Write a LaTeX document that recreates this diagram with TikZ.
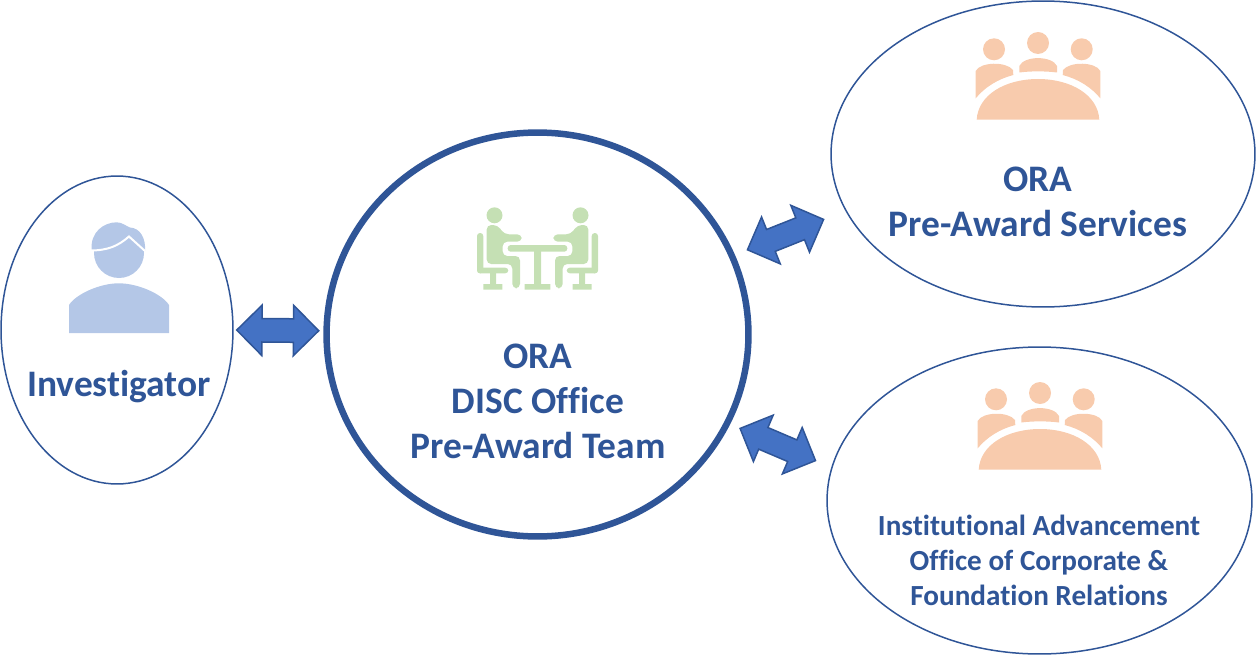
\documentclass[tikz,border=0pt]{standalone}
\usepackage{fontspec}
\setmainfont{Carlito}[Ligatures=NoCommon]
\usetikzlibrary{shapes.geometric,shapes.arrows,positioning,calc}
\definecolor{oraBlue}{HTML}{2F5597}
\definecolor{arrowBlue}{HTML}{4472C4}
\definecolor{personBlue}{HTML}{B4C7E7}
\definecolor{teamGreen}{HTML}{C5E0B4}
\definecolor{groupPeach}{HTML}{F8CBAD}
\tikzset{
  office/.style={ellipse,draw=oraBlue,line width=0.03cm,inner sep=0pt,outer sep=0pt},
  bigText/.style={align=center,text=oraBlue,font=\fontsize{21.3}{25.6}\selectfont\bfseries},
  smallText/.style={align=center,text=oraBlue,font=\fontsize{16.6}{19.9}\selectfont\bfseries},
  exchange/.style={double arrow,draw=oraBlue,fill=arrowBlue,line width=0.03cm,sloped,
    minimum height=1.64cm,double arrow head extend=0.27cm,
    double arrow tip angle=90,inner sep=0.22cm,outer sep=0pt},
  meeting/.pic={
    \fill[groupPeach] (34,29.3) circle (11) (78,23) circle (11) (121.7,29.3) circle (11);
    % shoulders
    \fill[groupPeach] (59.3,52.5) -- (59.3,46) .. controls (64,35.5) and (92,35.5) .. (97,46) -- (97,52.5) .. controls (85,51) and (71,51) .. (59.3,52.5) -- cycle;
    \fill[groupPeach] (15.7,78.3) -- (15.7,51) .. controls (20,42) and (46,41) .. (53,50) -- (53.3,55) .. controls (38,59) and (25,67) .. (15.7,78.3) -- cycle;
    \fill[groupPeach] (140.3,78.3) -- (140.3,51) .. controls (136,42) and (110,41) .. (103,50) -- (102.7,55) .. controls (118,59) and (131,67) .. (140.3,78.3) -- cycle;
    % table
    \fill[groupPeach] (16.7,99.7) .. controls (18,75) and (45,59) .. (78,59) .. controls (111,59) and (138,75) .. (139.3,99.7) -- cycle;
  }
}
\begin{document}
\begin{tikzpicture}[x=0.02cm,y=-0.02cm]
  \useasboundingbox (0,0) rectangle (1256,655);

  % Offices
  \node[office,minimum width=4.64cm,minimum height=6.16cm] (investigator) at (117,330) {};
  \node[office,line width=0.13cm,minimum width=8.44cm,minimum height=8.08cm] (disc) at (537.5,334.5) {};
  \node[office,minimum width=8.48cm,minimum height=6.12cm] (services) at (1043,154) {};
  \node[office,minimum width=8.5cm,minimum height=6.14cm] (advancement) at (1039.5,500.5) {};

  % Labels
  \node[bigText] (investigatorText) at (119,386.5) {Investigator};
  \node[bigText] (discText) at (538,401) {ORA\\DISC Office\\Pre-Award Team};
  \node[bigText] (servicesText) at (1038,202) {ORA\\Pre-Award Services};
  \node[smallText] (advancementText) at (1039,560) {Institutional Advancement\\Office of Corporate \&\\Foundation Relations};

  % Block arrows
  \path (investigator.-0.7) -- node[exchange,pos=0.478] (arrowLeft) {} (disc.179.3);
  \path (disc.22) -- node[exchange,pos=0.47] (arrowTop) {} (services.196.7);
  \path (disc.-25.3) -- node[exchange,pos=0.483] (arrowBottom) {} (advancement.171.2);

  % Investigator icon
  \fill[personBlue] (119,253) circle (25);
  \fill[personBlue] (91.7,250) .. controls (90,232) and (104,222.3) .. (116.7,222.3) .. controls (122,222.3) and (126,226) .. (130,227.5) .. controls (140,228) and (146,238) .. (145,251) -- cycle;
  \draw[white,line width=0.04cm] (90,250.5) .. controls (108,250.5) and (118,246) .. (129,236.5) -- (145,251);
  \fill[personBlue] (69,333) -- (69,305) .. controls (76,294) and (100,283.3) .. (118.7,283.3) .. controls (138,283.3) and (162,294) .. (169,305) -- (169,333) -- cycle;

  % Meeting icon, table in the middle
  \begin{scope}[shift={(537.5,0)}]
    \fill[teamGreen,rounded corners=0.06cm] (-29.8,245) rectangle (29.8,251.7);
    \fill[teamGreen] (-3.5,250) rectangle (3.5,285) (-12.8,284) rectangle (12.8,289.7);
    \foreach \s in {1,-1} {
      \begin{scope}[xscale=\s]
        \fill[teamGreen] (-43,215.3) circle (8);
        % body
        \fill[teamGreen,rounded corners=0.09cm] (-50.8,225) -- (-40,225) -- (-33.2,234.3) -- (-15.8,234.3) -- (-15.8,241.7) -- (-34.8,241.7) -- (-34.8,256) -- (-17.5,256) -- (-17.5,288.3) -- (-25.2,288.3) -- (-25.2,264) -- (-50.8,264) -- cycle;
        % chair
        \fill[teamGreen,rounded corners=0.06cm] (-60.5,233) rectangle (-54.2,273.3);
        \fill[teamGreen,rounded corners=0.06cm] (-60.5,267.7) rectangle (-29.2,273.3);
        \fill[teamGreen] (-47.5,273) rectangle (-41.5,285) (-54.2,284) rectangle (-35.2,289.7);
      \end{scope}
    }
  \end{scope}

  % Group icons
  \pic at (960,20) {meeting};
  \pic at (962,370) {meeting};
\end{tikzpicture}
\end{document}
